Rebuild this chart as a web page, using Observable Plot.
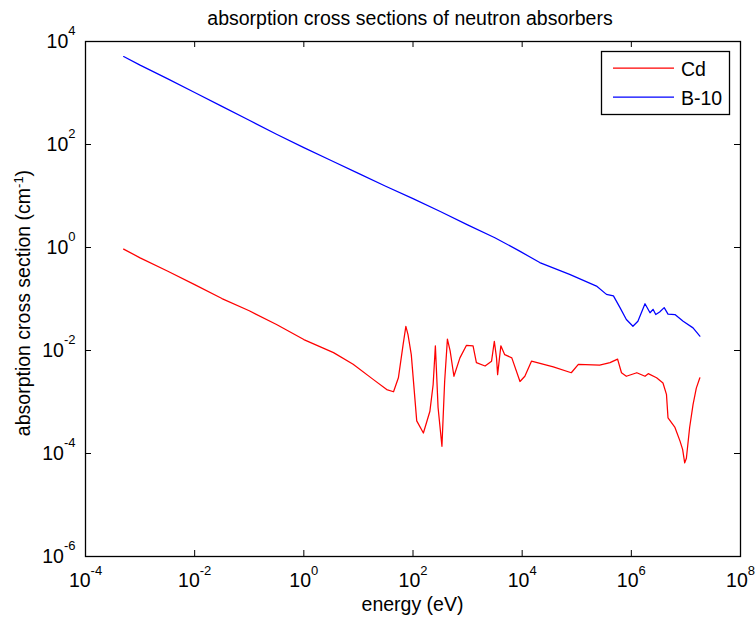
<!DOCTYPE html>
<html><head><meta charset="utf-8">
<script src="https://cdn.jsdelivr.net/npm/d3@7"></script>
<script src="https://cdn.jsdelivr.net/npm/@observablehq/plot@0.6"></script>
<style>
body{margin:0;background:#fff}
svg{font-family:"Liberation Sans",Arial,Helvetica,sans-serif}
</style>
</head><body><div id="chart"></div>
<script>
const title = "absorption cross sections of neutron absorbers";
const xLabel = "energy (eV)";
const yLabelMain = "absorption cross section (cm";
const yLabelSup = "-1";
const yLabelEnd = ")";
const seriesNames = ["Cd", "B-10"];
const seriesColors = ["#ff0000", "#0000ff"];
const xTicks = [1e-4, 1e-2, 1e0, 1e2, 1e4, 1e6, 1e8];
const yTicks = [1e-6, 1e-4, 1e-2, 1e0, 1e2, 1e4];
const xTickExp = ["-4", "-2", "0", "2", "4", "6", "8"];
const yTickExp = ["-6", "-4", "-2", "0", "2", "4"];

const cdEnergy = [5e-4, 1e-3, 3.16e-3, 0.01, 0.0316, 0.1, 0.316, 1, 3.5, 8, 18.6, 33, 44, 54, 66, 74, 81, 93,
  117, 155, 204, 234, 257, 288, 339, 380, 427, 479, 562, 724, 955, 1260, 1450, 2090, 2750, 3090, 3390, 3550,
  4070, 4790, 6460, 9120, 11200, 14800, 37200, 79400, 1.07e5, 2.63e5, 4.07e5, 5.6e5, 6.6e5, 8.1e5, 1.26e6,
  1.78e6, 2.04e6, 2.9e6, 3.8e6, 4.4e6, 4.7e6, 6.3e6, 7.8e6, 8.7e6, 9.5e6, 1.02e7, 1.17e7, 1.35e7, 1.55e7, 1.8e7];
const cdSigma = [0.93, 0.63, 0.35, 0.19, 0.102, 0.059, 0.032, 0.0163, 0.0091, 0.0054, 0.00275, 0.00174, 0.00158,
  0.00295, 0.0132, 0.0295, 0.0204, 0.0083, 4.3e-4, 2.5e-4, 6.6e-4, 0.00219, 0.0123, 7.8e-4, 1.38e-4, 0.0025,
  0.0166, 0.0098, 0.00316, 0.0072, 0.0126, 0.0123, 0.0058, 0.005, 0.0062, 0.0151, 0.0072, 0.0034, 0.0123,
  0.0083, 0.0072, 0.0025, 0.00316, 0.0062, 0.0048, 0.0037, 0.0054, 0.0052, 0.0058, 0.0068, 0.0037, 0.00316,
  0.0037, 0.00316, 0.00355, 0.00295, 0.00234, 0.00141, 4.9e-4, 3.2e-4, 1.74e-4, 1.2e-4, 6.6e-5, 8.1e-5,
  3.2e-4, 8.9e-4, 0.00186, 0.00295];

const b10Energy = [5e-4, 1e-3, 3.16e-3, 0.01, 0.0316, 0.1, 0.316, 1, 3.16, 10, 31.6, 100, 316, 1000, 3160,
  9000, 2.1e4, 7.4e4, 2.3e5, 3.5e5, 4.7e5, 6.2e5, 8.1e5, 1.07e6, 1.32e6, 1.78e6, 2.2e6, 2.5e6, 2.8e6, 3.3e6,
  4.0e6, 4.7e6, 6.3e6, 8.9e6, 1.35e7, 1.8e7];
const b10Sigma = [5100, 3470, 1905, 1023, 550, 295, 158, 87, 49, 27.5, 15.5, 8.9, 5.0, 2.75, 1.55, 0.85, 0.51,
  0.30, 0.178, 0.123, 0.115, 0.068, 0.040, 0.0295, 0.037, 0.081, 0.054, 0.063, 0.050, 0.056, 0.068, 0.051,
  0.050, 0.037, 0.0275, 0.019];

const cd = cdEnergy.map((e, i) => ({energy: e, sigma: cdSigma[i]}));
const b10 = b10Energy.map((e, i) => ({energy: e, sigma: b10Sigma[i]}));

const W = 756, H = 622, mL = 85, mR = 16, mT = 41, mB = 66;
const innerW = W - mL - mR, innerH = H - mT - mB, tk = 6;
const FS = 19.5;

const chart = Plot.plot({
  width: W, height: H,
  marginLeft: mL, marginRight: mR, marginTop: mT, marginBottom: mB,
  style: {fontFamily: '"Liberation Sans", Arial, sans-serif', background: "#fff", color: "#000"},
  x: {type: "log", domain: [1e-4, 1e8]},
  y: {type: "log", domain: [1e-6, 1e4]},
  marks: [
    Plot.line(cd, {x: "energy", y: "sigma", stroke: seriesColors[0], strokeWidth: 1.25}),
    Plot.line(b10, {x: "energy", y: "sigma", stroke: seriesColors[1], strokeWidth: 1.25}),
    Plot.tickX(xTicks, {x: d => d, insetTop: innerH - tk, stroke: "#000"}),
    Plot.tickX(xTicks, {x: d => d, insetBottom: innerH - tk, stroke: "#000"}),
    Plot.tickY(yTicks, {y: d => d, insetRight: innerW - tk, stroke: "#000"}),
    Plot.tickY(yTicks, {y: d => d, insetLeft: innerW - tk, stroke: "#000"}),
    Plot.frame({stroke: "#000", strokeWidth: 1.3}),
    Plot.axisX({anchor: "bottom", ticks: xTicks, tickSize: 0, tickPadding: 17, fontSize: FS, label: null,
      tickFormat: d => "10^" + xTickExp[xTicks.indexOf(d)]}),
    Plot.axisY({anchor: "left", ticks: yTicks, tickSize: 0, tickPadding: 10, fontSize: FS, label: null,
      tickFormat: d => "10^" + yTickExp[yTicks.indexOf(d)]})
  ]
});

const svg = d3.select(chart);
// superscript exponents for tick labels
svg.selectAll('[aria-label="x-axis tick label"] text, [aria-label="y-axis tick label"] text').each(function () {
  const t = d3.select(this);
  const s = t.text();
  if (!s.includes("^")) return;
  const [base, exp] = s.split("^");
  t.text(null);
  t.append("tspan").text(base);
  t.append("tspan").attr("dy", -12.5).attr("font-size", 13).text(exp);
});

// title
svg.append("text").attr("x", 410).attr("y", 25).attr("text-anchor", "middle")
  .attr("font-size", FS).attr("fill", "#000").text(title);
// x label
svg.append("text").attr("x", mL + innerW / 2).attr("y", 611).attr("text-anchor", "middle")
  .attr("font-size", FS).attr("fill", "#000").text(xLabel);
// y label
const yl = svg.append("text").attr("transform", "translate(30,303) rotate(-90)").attr("text-anchor", "middle")
  .attr("font-size", FS).attr("fill", "#000");
yl.append("tspan").text(yLabelMain);
yl.append("tspan").attr("dy", -7).attr("font-size", 13).text(yLabelSup);
yl.append("tspan").attr("dy", 7).text(yLabelEnd);

// legend
const lg = svg.append("g").attr("text-anchor", "start");
lg.append("rect").attr("x", 601.5).attr("y", 51.5).attr("width", 128).attr("height", 63)
  .attr("fill", "#fff").attr("stroke", "#000").attr("stroke-width", 1.3);
const rowsY = [68, 97];
seriesNames.forEach((name, i) => {
  lg.append("line").attr("x1", 613).attr("x2", 674).attr("y1", rowsY[i]).attr("y2", rowsY[i])
    .attr("stroke", seriesColors[i]).attr("stroke-width", 1.25);
  lg.append("text").attr("x", 681).attr("y", rowsY[i] + 7.5).attr("text-anchor", "start")
    .attr("font-size", FS).attr("fill", "#000").text(name);
});

document.getElementById("chart").appendChild(chart);
</script>
</body></html>
